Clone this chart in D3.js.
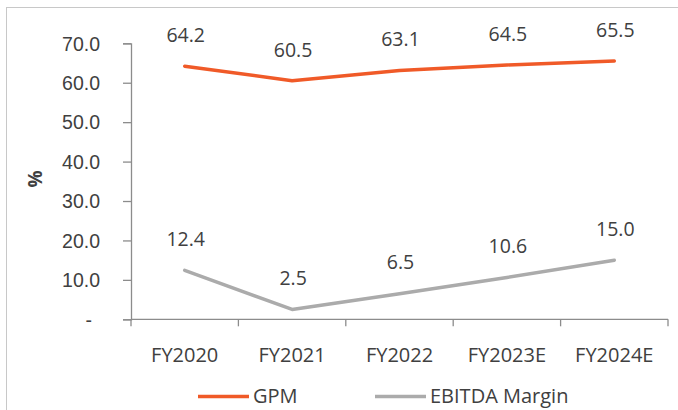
<!DOCTYPE html>
<html>
<head>
<meta charset="utf-8">
<script src="https://cdn.jsdelivr.net/npm/d3@7"></script>
<style>
  html, body { margin: 0; padding: 0; background: #ffffff; }
  svg { display: block; font-family: "Open Sans", "Noto Sans", sans-serif; }
</style>
</head>
<body>
<svg id="chart" width="678" height="410"></svg>
<script>
// Margin trends by fiscal year (%)
const categories = ["FY2020", "FY2021", "FY2022", "FY2023E", "FY2024E"];
const gpm = [64.2, 60.5, 63.1, 64.5, 65.5];
const ebitdaMargin = [12.4, 2.5, 6.5, 10.6, 15.0];
const yTicks = [0, 10, 20, 30, 40, 50, 60, 70];
const seriesNames = ["GPM", "EBITDA Margin"];

const series = [
  { name: seriesNames[0], values: gpm, color: "#F05A28" },
  { name: seriesNames[1], values: ebitdaMargin, color: "#ABABAB" }
];

const svg = d3.select("#chart");
const textColor = "#404040";
const axisColor = "#8C8C8C";

// Outer frame (only top and left edges fall inside the canvas)
svg.append("rect")
  .attr("x", 6.5).attr("y", 7.5)
  .attr("width", 700).attr("height", 420)
  .attr("fill", "none")
  .attr("stroke", "#C8C8C8")
  .attr("stroke-width", 1);

const plot = { left: 131, right: 668, top: 43.3, bottom: 319.3 };

const x = d3.scaleBand()
  .domain(categories)
  .range([plot.left, plot.right]);

const y = d3.scaleLinear()
  .domain([0, 70])
  .range([plot.bottom, plot.top]);

// Y axis
const yAxis = d3.axisLeft(y)
  .tickValues(yTicks)
  .tickSize(8)
  .tickPadding(23)
  .tickFormat(d => d === 0 ? "-" : d3.format(".1f")(d));

const gy = svg.append("g")
  .attr("transform", `translate(${plot.left},0)`)
  .call(yAxis);
gy.select(".domain").attr("stroke", axisColor).attr("stroke-width", 1.3);
gy.selectAll(".tick line").attr("stroke", axisColor).attr("stroke-width", 1.3);
gy.selectAll(".tick text")
  .attr("fill", textColor)
  .style("font-size", "19.5px")
  .attr("dy", "0.35em");
gy.selectAll(".tick").filter(d => d === 0).select("text").attr("x", -39);

// X axis: ticks at category boundaries, labels at category centres
const xAxisLine = svg.append("g").attr("class", "x-axis");
xAxisLine.append("line")
  .attr("x1", plot.left).attr("x2", plot.right)
  .attr("y1", plot.bottom).attr("y2", plot.bottom)
  .attr("stroke", axisColor).attr("stroke-width", 1.3);
const boundaries = categories.map(c => x(c)).concat([x(categories[categories.length - 1]) + x.bandwidth()]);
xAxisLine.selectAll("line.tick")
  .data(boundaries)
  .join("line")
  .attr("class", "tick")
  .attr("x1", d => d).attr("x2", d => d)
  .attr("y1", plot.bottom).attr("y2", plot.bottom + 7)
  .attr("stroke", axisColor).attr("stroke-width", 1.3);
xAxisLine.selectAll("text")
  .data(categories)
  .join("text")
  .attr("x", d => x(d) + x.bandwidth() / 2)
  .attr("y", 355)
  .attr("dy", "0.35em")
  .attr("text-anchor", "middle")
  .attr("fill", textColor)
  .style("font-size", "20px")
  .text(d => d);

// Y axis title
svg.append("text")
  .attr("transform", "translate(35,179) rotate(-90)")
  .attr("text-anchor", "middle")
  .attr("dy", "0.35em")
  .attr("fill", textColor)
  .style("font-size", "19px")
  .style("font-weight", "bold")
  .text("%");

// Lines and data labels
const line = d3.line()
  .x((d, i) => x(categories[i]) + x.bandwidth() / 2)
  .y(d => y(d));

series.forEach(s => {
  svg.append("path")
    .datum(s.values)
    .attr("fill", "none")
    .attr("stroke", s.color)
    .attr("stroke-width", 3.5)
    .attr("stroke-linejoin", "round")
    .attr("stroke-linecap", "round")
    .attr("d", line);

  svg.append("g")
    .selectAll("text")
    .data(s.values)
    .join("text")
    .attr("x", (d, i) => x(categories[i]) + x.bandwidth() / 2 + 1)
    .attr("y", d => y(d) - 31)
    .attr("dy", "0.35em")
    .attr("text-anchor", "middle")
    .attr("fill", textColor)
    .style("font-size", "19.5px")
    .text(d => d3.format(".1f")(d));
});

// Legend
const legendItems = [
  { name: series[0].name, color: series[0].color, x0: 198 },
  { name: series[1].name, color: series[1].color, x0: 375 }
];
const legend = svg.append("g");
legendItems.forEach(item => {
  legend.append("line")
    .attr("x1", item.x0).attr("x2", item.x0 + 51)
    .attr("y1", 396.5).attr("y2", 396.5)
    .attr("stroke", item.color)
    .attr("stroke-width", 3.5);
  legend.append("text")
    .attr("x", item.x0 + 55)
    .attr("y", 396)
    .attr("dy", "0.35em")
    .attr("fill", textColor)
    .style("font-size", "20px")
    .text(item.name);
});
</script>
</body>
</html>
